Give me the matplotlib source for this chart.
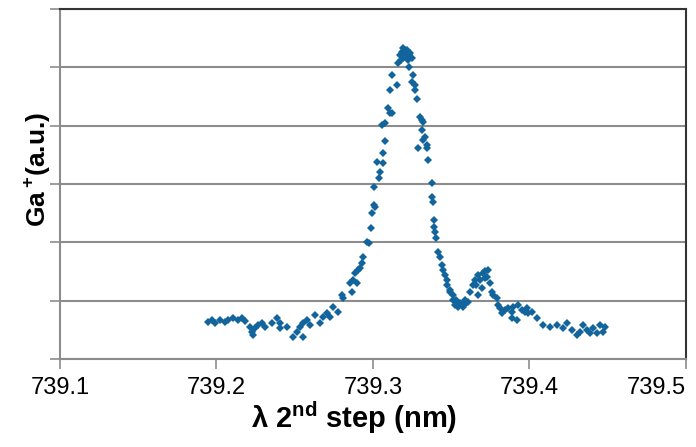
import matplotlib
matplotlib.use("Agg")
import matplotlib.pyplot as plt

plt.rcParams['font.family'] = ['Liberation Sans', 'DejaVu Sans']
plt.rcParams['mathtext.fontset'] = 'custom'
plt.rcParams['mathtext.rm'] = 'Liberation Sans:bold'
plt.rcParams['mathtext.bf'] = 'Liberation Sans:bold'

# wavelength of the 2nd step (nm) and Ga+ signal (a.u.)
wl = [739.1946, 739.1971, 739.1990, 739.2022, 739.2054, 739.2074, 739.2105, 739.2137,
      739.2163, 739.2182, 739.2214, 739.2227, 739.2233, 739.2246, 739.2265, 739.2291,
      739.2310, 739.2355, 739.2387, 739.2406, 739.2406, 739.2451, 739.2489, 739.2514,
      739.2534, 739.2553, 739.2553, 739.2578, 739.2598, 739.2629, 739.2661, 739.2681,
      739.2706, 739.2725, 739.2744, 739.2776, 739.2802, 739.2808, 739.2853, 739.2866,
      739.2872, 739.2885, 739.2898, 739.2904, 739.2917, 739.2930, 739.2936, 739.2962,
      739.2975, 739.2987, 739.2994, 739.3006, 739.3013, 739.3006, 739.3026, 739.3038,
      739.3045, 739.3064, 739.3064, 739.3077, 739.3058, 739.3077, 739.3096, 739.3109,
      739.3121, 739.3109, 739.3121, 739.3153, 739.3160, 739.3173, 739.3179, 739.3185,
      739.3192, 739.3192, 739.3198, 739.3205, 739.3211, 739.3217, 739.3224, 739.3230,
      739.3237, 739.3249, 739.3230, 739.3256, 739.3249, 739.3268, 739.3268, 739.3281,
      739.3300, 739.3313, 739.3320, 739.3313, 739.3320, 739.3332, 739.3288, 739.3345,
      739.3345, 739.3352, 739.3377, 739.3377, 739.3383, 739.3390, 739.3390, 739.3396,
      739.3403, 739.3415, 739.3428, 739.3441, 739.3447, 739.3460, 739.3473, 739.3473,
      739.3492, 739.3492, 739.3511, 739.3511, 739.3524, 739.3530, 739.3537, 739.3543,
      739.3550, 739.3556, 739.3569, 739.3575, 739.3588, 739.3594, 739.3607, 739.3620,
      739.3639, 739.3652, 739.3658, 739.3671, 739.3671, 739.3684, 739.3697, 739.3703,
      739.3716, 739.3716, 739.3729, 739.3735, 739.3748, 739.3760, 739.3767, 739.3792,
      739.3799, 739.3812, 739.3824, 739.3844, 739.3863, 739.3888, 739.3888, 739.3895,
      739.3920, 739.3927, 739.3952, 739.3971, 739.3984, 739.3990, 739.4016, 739.4048,
      739.4086, 739.4131, 739.4176, 739.4214, 739.4240, 739.4272, 739.4304, 739.4323,
      739.4342, 739.4368, 739.4387, 739.4406, 739.4431, 739.4451, 739.4470, 739.4483]
signal = [0.63, 0.67, 0.62, 0.67, 0.63, 0.67, 0.70, 0.67,
          0.70, 0.65, 0.55, 0.46, 0.41, 0.53, 0.58, 0.62,
          0.55, 0.62, 0.70, 0.62, 0.53, 0.55, 0.38, 0.46,
          0.55, 0.38, 0.62, 0.67, 0.58, 0.75, 0.62, 0.72,
          0.79, 0.72, 0.89, 0.81, 1.10, 1.05, 1.30, 1.15,
          1.35, 1.47, 1.30, 1.53, 1.56, 1.65, 1.75, 2.01,
          1.99, 2.25, 2.50, 2.64, 2.61, 2.95, 3.38, 3.10,
          3.21, 3.36, 3.53, 3.74, 4.01, 4.05, 4.30, 4.22,
          4.22, 4.61, 4.87, 4.70, 5.07, 5.21, 5.12, 5.26,
          5.33, 5.16, 5.24, 5.30, 5.19, 5.30, 5.12, 5.21,
          5.24, 5.16, 5.00, 4.87, 4.75, 4.70, 4.61, 4.46,
          4.15, 4.10, 4.06, 3.93, 3.75, 3.81, 3.62, 3.67,
          3.62, 3.41, 3.02, 2.78, 2.69, 2.38, 2.26, 2.18,
          2.07, 1.83, 1.75, 1.61, 1.53, 1.44, 1.35, 1.27,
          1.18, 1.15, 1.10, 1.01, 0.93, 1.01, 0.98, 0.89,
          0.93, 0.96, 0.93, 0.89, 1.01, 0.96, 0.98, 1.15,
          1.27, 1.35, 1.27, 1.44, 1.10, 1.35, 1.22, 1.47,
          1.51, 1.38, 1.41, 1.53, 1.30, 1.15, 1.10, 1.05,
          0.93, 0.87, 0.79, 0.84, 0.87, 0.81, 0.70, 0.89,
          0.67, 0.93, 0.84, 0.81, 0.87, 0.79, 0.81, 0.70,
          0.58, 0.55, 0.58, 0.53, 0.62, 0.50, 0.41, 0.46,
          0.58, 0.50, 0.45, 0.53, 0.45, 0.58, 0.46, 0.55]

xticks = [739.1, 739.2, 739.3, 739.4, 739.5]

fig = plt.figure(figsize=(6.96, 4.47), dpi=100)
ax = fig.add_axes([0.0862, 0.197, 0.8994, 0.783])

ax.plot(wl, signal, linestyle='none', marker='D', markersize=4.5,
        color='#11659c', markeredgewidth=0)

ax.set_xlim(739.1, 739.5)
ax.set_ylim(0, 6)
ax.set_xticks(xticks)
ax.set_xticklabels([f'{t:.1f}' for t in xticks], fontsize=17)
# last label pulled inside the figure, as in the original
ax.get_xticklabels()[-1].set_horizontalalignment('right')
ax.set_yticks(range(7))
ax.set_yticklabels([])
ax.yaxis.grid(True, color='#8c8c8c', linewidth=1.5)
ax.set_axisbelow(True)
ax.tick_params(axis='both', direction='out', length=7, width=1.2, color='#8c8c8c')
ax.tick_params(axis='x', pad=6)

for s in ['left', 'bottom']:
    ax.spines[s].set_color('#8c8c8c')
    ax.spines[s].set_linewidth(1.5)
for s in ['top', 'right']:
    ax.spines[s].set_color('#333333')
    ax.spines[s].set_linewidth(1.5)

ax.set_xlabel(r'λ 2$^{\mathbf{nd}}$ step (nm)', fontsize=21, fontweight='bold',
              labelpad=0, x=0.47)
ax.set_ylabel(r'Ga$\,^{+}$(a.u.)', fontsize=19, fontweight='bold', labelpad=-5, y=0.54)

fig.savefig('out.png', dpi=100)
